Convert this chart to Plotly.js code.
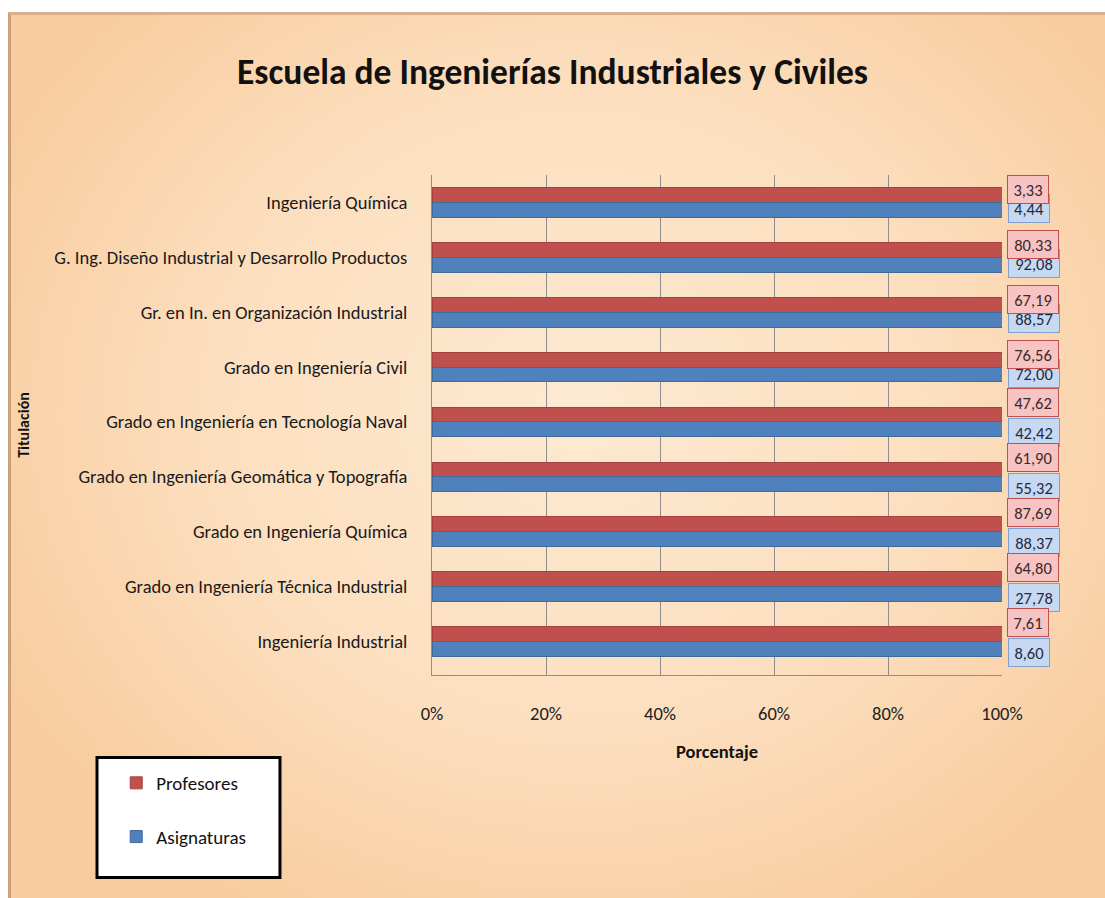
<!DOCTYPE html>
<html>
<head>
<meta charset="utf-8">
<script src="https://cdn.plot.ly/plotly-3.0.1.min.js"></script>
<style>
  html, body { margin: 0; padding: 0; background: #ffffff; }
  #bg {
    position: absolute; left: 8px; top: 12px; width: 1097px; height: 886px;
    border-left: 3px solid #c9a27c; border-top: 3px solid #d9b08a;
    box-sizing: border-box;
    background: radial-gradient(ellipse 60% 65% at 52% 45%, #fde9d2 0%, #fcdfbf 55%, #f8cc9e 100%);
  }
  #chart { position: absolute; left: 0; top: 0; width: 1105px; height: 898px; }
</style>
</head>
<body>
<div id="bg"></div>
<div id="chart"></div>
<script>
// ---- data (top to bottom, as in the reference) ----
const titulaciones = [
  "Ingeniería Química",
  "G. Ing. Diseño Industrial y Desarrollo Productos",
  "Gr. en In. en Organización Industrial",
  "Grado en Ingeniería Civil",
  "Grado en Ingeniería en Tecnología Naval",
  "Grado en Ingeniería Geomática y Topografía",
  "Grado en Ingeniería Química",
  "Grado en Ingeniería Técnica Industrial",
  "Ingeniería Industrial"
];
const profesores  = [3.33, 80.33, 67.19, 76.56, 47.62, 61.90, 87.69, 64.80, 7.61];
const asignaturas = [4.44, 92.08, 88.57, 72.00, 42.42, 55.32, 88.37, 27.78, 8.60];
const xTicks = [0, 20, 40, 60, 80, 100];

const FONT = "Carlito, 'Liberation Sans Narrow', 'Arial Narrow', 'Open Sans', sans-serif";
const RED = "#c0504d", BLUE = "#4f81bd";

const fmt = v => v.toFixed(2).replace(".", ",");

// Each series sits on its own (matched, overlaid) category axis so that the
// 100% normalisation is done per series, as in the original 100% chart.
const traces = [
  {
    type: "bar", orientation: "h", name: "Profesores",
    y: titulaciones, x: profesores, xaxis: "x", yaxis: "y",
    offset: -0.27, width: 0.27,
    marker: { color: RED, line: { color: "#a5413e", width: 1 } },
    legendgroup: "p", hoverinfo: "skip"
  },
  {
    type: "bar", orientation: "h", name: "Asignaturas",
    y: titulaciones, x: asignaturas, xaxis: "x", yaxis: "y2",
    offset: 0, width: 0.27,
    marker: { color: BLUE, line: { color: "#41699a", width: 1 } },
    legendgroup: "a", hoverinfo: "skip"
  }
];

function label(t, txt, xs, ys, bg, bc, fc) {
  return {
    x: 100, y: t, xref: "x", yref: "y",
    text: txt, showarrow: false,
    xanchor: "left", yanchor: "middle", xshift: xs, yshift: ys,
    width: 10 * txt.length - 6, height: 21, align: "center", valign: "middle",
    font: { family: FONT, size: 16.5, color: fc },
    bgcolor: bg, bordercolor: bc, borderwidth: 1, borderpad: 3
  };
}

const annotations = [];
titulaciones.forEach((t, i) => {
  const tight = i < 4;
  annotations.push(label(t, fmt(asignaturas[i]), 6, tight ? -6 : -11,
    "#c6d9f1", "#7f9fcf", "#1f2a44"));
});
titulaciones.forEach((t, i) => {
  const tight = i < 4;
  annotations.push(label(t, fmt(profesores[i]), 5, tight ? 13 : 19,
    "#f7c3c3", "#c0504d", "#3a2a2a"));
});

const layout = {
  width: 1105, height: 898,
  paper_bgcolor: "rgba(0,0,0,0)", plot_bgcolor: "rgba(0,0,0,0)",
  margin: { l: 432, r: 103, t: 175, b: 223 },
  font: { family: FONT, color: "#1a1a1a" },
  title: {
    text: "<b>Escuela de Ingenierías Industriales y Civiles</b>",
    x: 0.5, xref: "container", xanchor: "center",
    y: 0.92, yref: "container", yanchor: "middle",
    font: { family: FONT, size: 35.5, color: "#111111" }
  },
  barmode: "stack",
  barnorm: "percent",
  xaxis: {
    range: [0, 100],
    tickvals: xTicks, ticktext: xTicks.map(v => v + "%"),
    showgrid: true, gridcolor: "#8e8e8e", gridwidth: 1,
    showline: true, linecolor: "#8e8e8e", linewidth: 1,
    zeroline: false, ticks: "", ticklabelstandoff: 22,
    tickfont: { family: FONT, size: 18.5, color: "#222222" },
    title: { text: "<b>Porcentaje</b>", standoff: 20, font: { family: FONT, size: 18.5, color: "#111111" } },
    fixedrange: true
  },
  yaxis: {
    type: "category", autorange: "reversed",
    showgrid: false, showline: true, linecolor: "#8e8e8e", linewidth: 1,
    ticks: "", ticklabelstandoff: 20,
    tickfont: { family: FONT, size: 18.5, color: "#1a1a1a" },
    title: { text: "<b>Titulación</b>", standoff: 20, font: { family: FONT, size: 16, color: "#111111" } },
    fixedrange: true
  },
  yaxis2: {
    type: "category", overlaying: "y", matches: "y", autorange: "reversed",
    showgrid: false, showline: false, showticklabels: false, ticks: "",
    fixedrange: true
  },
  showlegend: true,
  legend: {
    x: -0.554, xanchor: "left", y: -0.178, yanchor: "top",
    bgcolor: "rgba(0,0,0,0)", borderwidth: 0,
    font: { family: FONT, size: 19, color: "#111111" },
    traceorder: "grouped", tracegroupgap: 26,
    itemclick: false, itemdoubleclick: false
  },
  shapes: [{
    type: "rect", xref: "paper", yref: "paper", layer: "below",
    x0: -0.5877, x1: -0.2667, y0: -0.165, y1: -0.405,
    fillcolor: "#ffffff", line: { color: "#000000", width: 3 }
  }],
  annotations: annotations
};

Plotly.newPlot("chart", traces, layout, { displayModeBar: false, staticPlot: true });
</script>
</body>
</html>
